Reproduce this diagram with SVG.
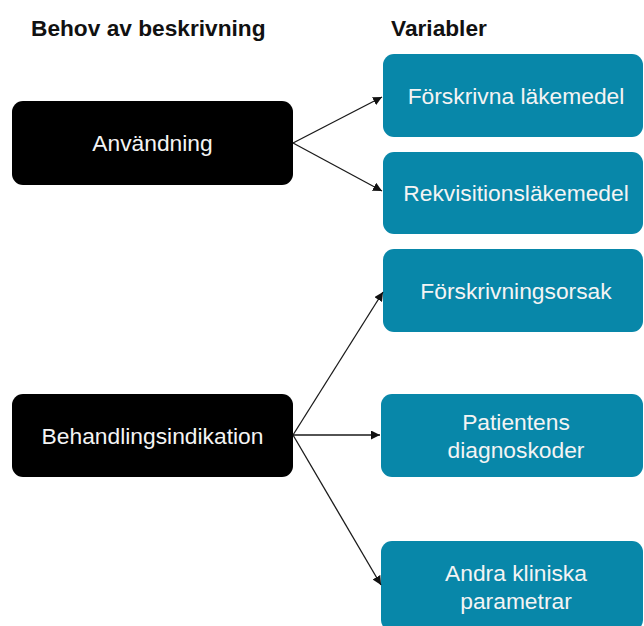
<svg xmlns="http://www.w3.org/2000/svg" width="644" height="626" viewBox="0 0 644 626">
  <style>
    .hdr { font-family: "Liberation Sans", Arial, sans-serif; font-size: 22.7px; font-weight: bold; fill: #111; }
    .need rect { fill: #000; }
    .var rect { fill: #0887a9; }
    .lbl { font-family: "Liberation Sans", Arial, sans-serif; font-size: 22.8px; fill: #f4f4f4; text-anchor: middle; }
    .conn line { stroke: #1a1a1a; stroke-width: 1.3; marker-end: url(#arrow); }
  </style>
  <defs>
    <marker id="arrow" viewBox="0 0 10 10" refX="10" refY="5" markerWidth="9" markerHeight="9" markerUnits="userSpaceOnUse" orient="auto">
      <path d="M0,0 L10,5 L0,10 z" fill="#111"/>
    </marker>
  </defs>

  <rect width="644" height="626" fill="#fff"/>

  <!-- column headers -->
  <text class="hdr" x="31" y="36">Behov av beskrivning</text>
  <text class="hdr" x="391" y="36">Variabler</text>

  <!-- needs -->
  <g id="anvandning" class="need">
    <rect x="12" y="101" width="281" height="84" rx="11"/>
    <text class="lbl" x="152.5" y="151">Användning</text>
  </g>
  <g id="behandlingsindikation" class="need">
    <rect x="12" y="394" width="281" height="83" rx="11"/>
    <text class="lbl" x="152.5" y="444">Behandlingsindikation</text>
  </g>

  <!-- variables -->
  <g id="forskrivna" class="var">
    <rect x="383" y="54" width="260" height="83" rx="11"/>
    <text class="lbl" x="516" y="104">Förskrivna läkemedel</text>
  </g>
  <g id="rekvisition" class="var">
    <rect x="383" y="152" width="260" height="82" rx="11"/>
    <text class="lbl" x="516" y="201">Rekvisitionsläkemedel</text>
  </g>
  <g id="orsak" class="var">
    <rect x="383" y="249" width="260" height="83" rx="11"/>
    <text class="lbl" x="516" y="299">Förskrivningsorsak</text>
  </g>
  <g id="diagnoskoder" class="var">
    <rect x="381" y="394" width="262" height="83" rx="11"/>
    <text class="lbl" x="516" y="430">Patientens</text>
    <text class="lbl" x="516" y="458">diagnoskoder</text>
  </g>
  <g id="parametrar" class="var">
    <rect x="381" y="541" width="262" height="90" rx="11"/>
    <text class="lbl" x="516" y="581">Andra kliniska</text>
    <text class="lbl" x="516" y="609">parametrar</text>
  </g>

  <!-- connectors -->
  <g id="connectors" class="conn">
    <line x1="293" y1="143" x2="382" y2="97"/>
    <line x1="293" y1="143" x2="382" y2="191"/>
    <line x1="293" y1="435" x2="383" y2="292"/>
    <line x1="293" y1="435" x2="380" y2="435"/>
    <line x1="293" y1="435" x2="381" y2="585"/>
  </g>
</svg>
